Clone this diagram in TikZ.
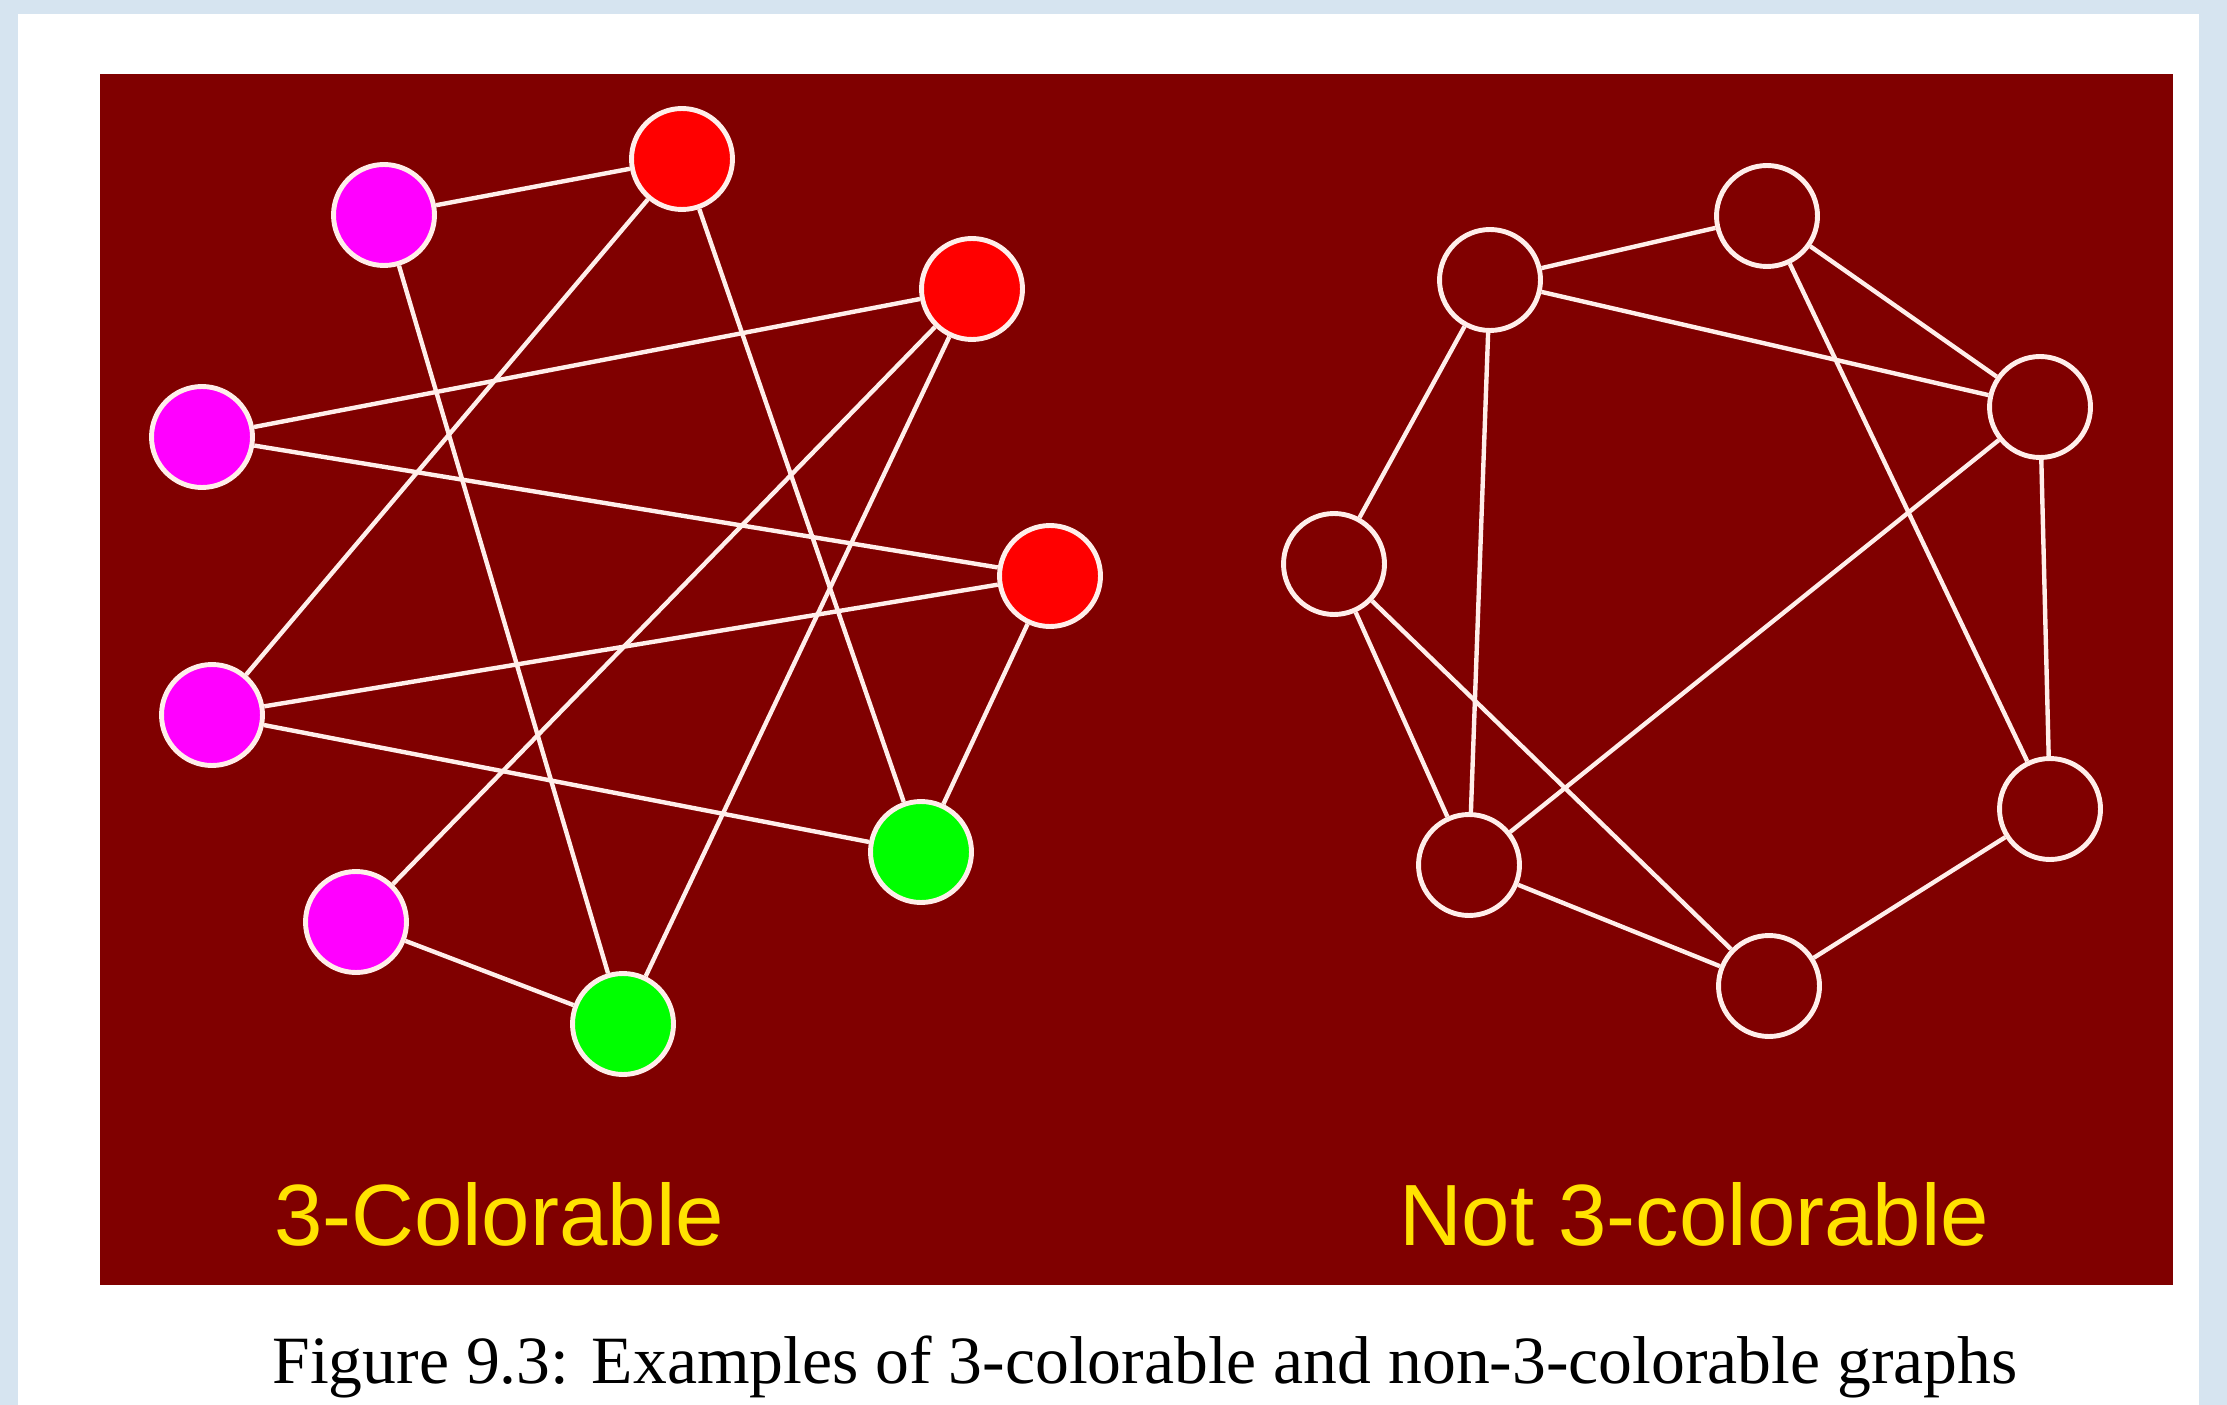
\documentclass[tikz,border=0pt]{standalone}
\usepackage{fontspec}
\setmainfont{Liberation Serif}
\setsansfont{Liberation Sans}
\definecolor{panelred}{RGB}{128,0,0}
\definecolor{paleblue}{RGB}{214,228,240}
\definecolor{titleyellow}{RGB}{255,226,0}
\definecolor{linkwhite}{RGB}{255,238,234}
\definecolor{vtxmagenta}{RGB}{255,0,255}
\definecolor{vtxred}{RGB}{255,0,0}
\definecolor{vtxgreen}{RGB}{0,255,0}
\tikzset{
	vtx/.style={circle, draw=linkwhite, line width=2.8pt, minimum size=2.02cm, inner sep=0pt},
	magentavtx/.style={vtx, fill=vtxmagenta},
	redvtx/.style={vtx, fill=vtxred},
	greenvtx/.style={vtx, fill=vtxgreen},
	emptyvtx/.style={vtx, fill=panelred},
	link/.style={draw=linkwhite, line width=2.5pt},
	graphtitle/.style={text=titleyellow, font=\sffamily\fontsize{49.5}{60}\selectfont, anchor=base}
}

\begin{document}
\begin{tikzpicture}[x=0.02cm, y=-0.02cm]
			%%%%% START %%%%%
			
			\useasboundingbox (0, 0) rectangle (2227, 1405);
			\fill[paleblue] (0, 0) rectangle (2227, 1405);
			\fill[white] (18, 14) rectangle (2199, 1405);
			\fill[panelred] (100, 74) rectangle (2173, 1285);
			
			% 3-colorable
			\node[magentavtx] (a) at (384, 215) {};
			\node[redvtx] (b) at (682, 159) {};
			\node[redvtx] (c) at (972, 289) {};
			\node[magentavtx] (d) at (202, 437) {};
			\node[redvtx] (e) at (1050, 576) {};
			\node[magentavtx] (f) at (212, 715) {};
			\node[greenvtx] (g) at (921, 852) {};
			\node[magentavtx] (h) at (356, 922) {};
			\node[greenvtx] (i) at (623, 1024) {};
			
			\draw[link] (a) -- (b);
			\draw[link] (a) -- (i);
			\draw[link] (b) -- (f);
			\draw[link] (b) -- (g);
			\draw[link] (c) -- (d);
			\draw[link] (c) -- (h);
			\draw[link] (c) -- (i);
			\draw[link] (d) -- (e);
			\draw[link] (f) -- (e);
			\draw[link] (f) -- (g);
			\draw[link] (e) -- (g);
			\draw[link] (h) -- (i);
			
			% not 3-colorable
			\node[emptyvtx] (p1) at (1490, 280) {};
			\node[emptyvtx] (p2) at (1767, 216) {};
			\node[emptyvtx] (p3) at (2040, 407) {};
			\node[emptyvtx] (p4) at (1334, 564) {};
			\node[emptyvtx] (p5) at (2050, 809) {};
			\node[emptyvtx] (p6) at (1469, 865) {};
			\node[emptyvtx] (p7) at (1769, 986) {};
			
			\draw[link] (p1) -- (p2);
			\draw[link] (p1) -- (p3);
			\draw[link] (p1) -- (p4);
			\draw[link] (p1) -- (p6);
			\draw[link] (p2) -- (p3);
			\draw[link] (p2) -- (p5);
			\draw[link] (p3) -- (p5);
			\draw[link] (p3) -- (p6);
			\draw[link] (p4) -- (p6);
			\draw[link] (p4) -- (p7);
			\draw[link] (p5) -- (p7);
			\draw[link] (p6) -- (p7);
			
			\node[graphtitle] (left title) at (499, 1245) {3-Colorable};
			\node[graphtitle] (right title) at (1694, 1245) {Not 3-colorable};
			
			\node[anchor=base, font=\fontsize{38.5}{46}\selectfont] (caption) at (1145, 1383) {Figure 9.3: Examples of 3-colorable and non-3-colorable graphs};
			
			%%%%% END %%%%%
		\end{tikzpicture}
\end{document}
